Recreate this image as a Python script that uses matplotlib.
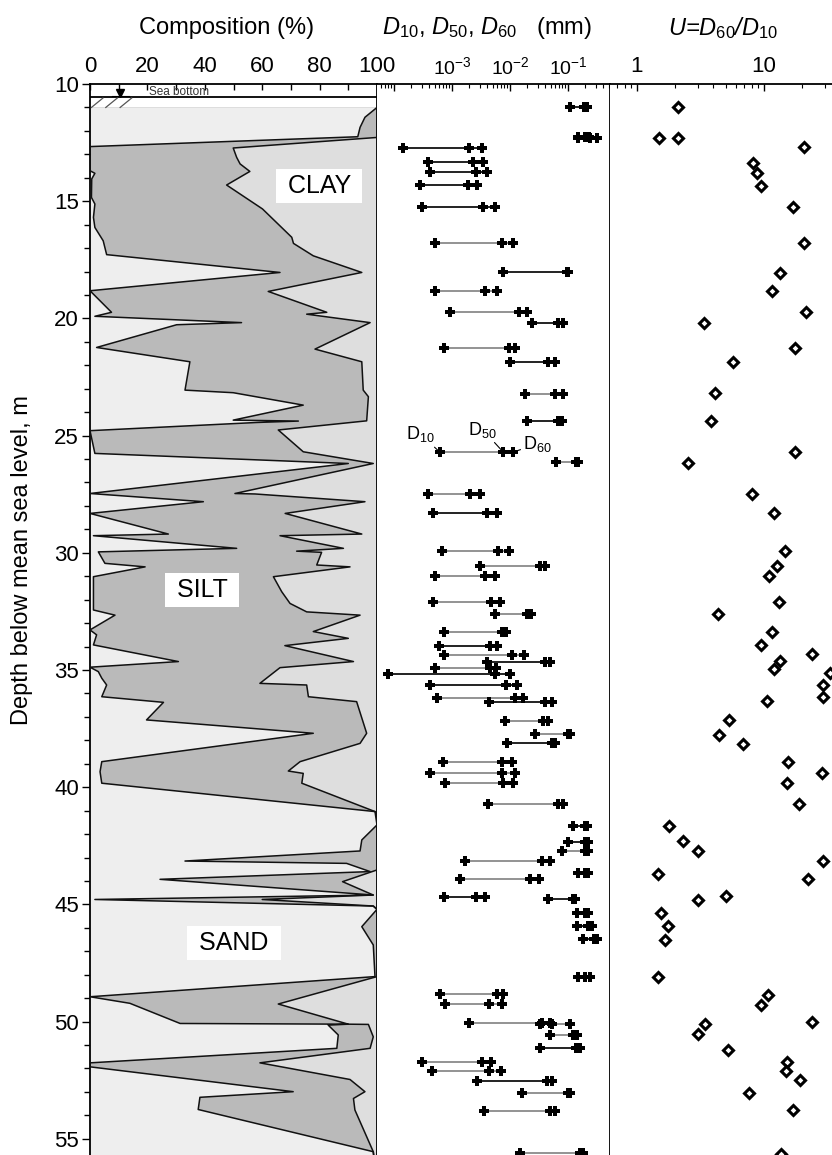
import numpy as np
import matplotlib
matplotlib.use("Agg")
import matplotlib.pyplot as plt
from matplotlib.ticker import FixedLocator, FuncFormatter, NullFormatter

plt.rcParams['font.family'] = ['Liberation Sans', 'DejaVu Sans']
plt.rcParams['mathtext.fontset'] = 'custom'
plt.rcParams['mathtext.rm'] = 'Liberation Sans'
plt.rcParams['mathtext.it'] = 'Liberation Sans:italic'

# ---------------- data: composition (cumulative %) ----------------
sand_depth = [11.00, 11.42, 11.85, 12.25, 12.67, 13.70, 13.81, 14.05, 14.84, 15.12, 15.69, 16.12,
              16.69, 17.28, 18.04, 18.82, 19.74, 19.91, 20.18, 20.27, 21.24, 21.85, 23.06, 23.17,
              23.70, 24.34, 24.38, 24.44, 24.79, 25.76, 26.19, 27.47, 27.82, 28.32, 29.20, 29.27,
              29.81, 29.96, 30.45, 30.60, 31.02, 32.44, 32.66, 33.29, 33.50, 33.93, 34.64, 34.88,
              35.07, 35.35, 35.64, 36.14, 36.38, 37.13, 37.70, 38.91, 39.34, 39.83, 41.04, 41.61,
              42.25, 42.72, 43.15, 43.25, 43.60, 43.93, 44.60, 44.79, 45.07, 45.21, 45.95, 46.73,
              48.08, 48.94, 49.22, 50.08, 50.11, 50.15, 50.57, 51.14, 51.76, 51.93, 52.99, 53.23,
              53.75, 55.55, 57.00]
sand_pct = [100, 95.8, 94.1, 93.3, 0, 0, 1.7, 0.6, 0.5, 1.7, 1.2, 1.7,
            4.6, 5.8, 66.2, 0, 7.5, 1.7, 52.8, 30.2, 2.3, 34.8, 33.1, 49.9,
            74.3, 49.9, 72.6, 58.1, 0, 1.7, 90.0, 0, 39.5, 0, 27.3, 1.2,
            51.1, 2.9, 5.2, 19.2, 1.2, 1.2, 8.7, 0, 2.3, 1.2, 30.8, 0,
            2.9, 4.1, 5.8, 4.1, 25.6, 19.7, 77.8, 4.1, 3.5, 4.1, 99.3, 100,
            94.7, 94.1, 33.1, 89.4, 97.6, 24.4, 98.7, 1.7, 98.7, 100, 94.7, 98.7,
            99.3, 0, 13.9, 31.4, 90, 83, 86.5, 86, 0, 0, 70.8, 38.3,
            37.7, 98.7, 100]

silt_top_depth = [11.00, 12.28, 12.73, 13.13, 13.41, 13.73, 14.31, 15.33, 16.54, 16.80, 17.33, 18.04,
                  18.85, 19.74, 19.82, 20.18, 21.31, 21.85, 23.06, 23.34, 24.37, 24.76, 25.69, 26.19,
                  27.47, 27.49, 27.82, 28.32, 29.20, 29.27, 29.81, 29.93, 29.98, 30.52, 30.60, 31.02,
                  31.66, 32.16, 32.52, 32.66, 33.36, 33.65, 33.96, 34.64, 34.90, 35.57, 35.64, 36.14,
                  36.35, 37.70, 38.13, 38.91, 39.31, 39.41, 39.83, 41.04, 41.10, 43.53, 44.03, 44.60,
                  44.79, 45.07, 45.21, 48.08, 49.25, 50.11, 50.12, 50.65, 51.14, 51.76, 52.47, 52.99,
                  53.28, 53.77, 55.55, 57.00]
silt_top_pct = [100, 100, 49.9, 51.1, 52.3, 55.7, 47.6, 60.1, 70.3, 70.9, 77.8, 94.7,
                62.1, 82.5, 75.5, 97.6, 78.4, 94.7, 95.2, 97.0, 96.4, 65.6, 74.3, 98.7,
                50.5, 57.5, 95.8, 68.0, 94.7, 66.2, 88.3, 72.0, 80.7, 79.0, 90.6, 63.9,
                66.8, 69.7, 75.5, 94.1, 77.8, 90.0, 67.9, 91.8, 66.2, 59.2, 75.5, 76.1,
                92.9, 96.4, 94.1, 73.2, 69.1, 74.3, 73.8, 99.3, 100, 100, 88, 98.7,
                60, 98.7, 100, 100, 65.6, 90.0, 97.0, 98.7, 97.6, 59.2, 90.6, 95.8,
                91.8, 92.3, 98.7, 100]

# ---------------- data: grain sizes (mm) ----------------
d_depth = [10.99, 12.28, 12.30, 12.72, 13.34, 13.77, 14.31, 15.26, 16.77, 18.03, 18.83, 19.74,
           20.18, 21.28, 21.85, 23.24, 24.36, 25.71, 26.14, 27.50, 28.32, 29.91, 30.55, 30.98,
           32.11, 32.61, 33.39, 33.96, 34.36, 34.64, 34.90, 35.17, 35.64, 36.18, 36.35, 37.16,
           37.73, 38.10, 38.94, 39.38, 39.80, 40.73, 41.66, 42.32, 42.72, 43.15, 43.67, 43.93,
           44.67, 44.79, 45.36, 45.92, 46.49, 48.08, 48.84, 49.26, 50.07, 50.12, 50.57, 51.14,
           51.71, 52.09, 52.52, 53.03, 53.80, 55.62]
D10 = [0.108, 0.151, 0.151, 1.45e-4, 3.9e-4, 4.2e-4, 2.8e-4, 3.0e-4, 5.2e-4, 7.7e-3, 5.2e-4, 9.3e-4,
       2.43e-2, 7.2e-4, 1.0e-2, 1.82e-2, 2.0e-2, 6.2e-4, 6.2e-2, 3.9e-4, 4.7e-4, 6.6e-4, 3.0e-3, 5.1e-4,
       4.8e-4, 5.5e-3, 7.2e-4, 6.0e-4, 7.2e-4, 4.0e-3, 5.2e-4, 7.9e-5, 4.2e-4, 5.5e-4, 4.4e-3, 8.1e-3,
       2.7e-2, 8.9e-3, 6.9e-4, 4.2e-4, 7.6e-4, 4.1e-3, 0.123, 0.101, 7.8e-2, 1.66e-3, 0.151, 1.38e-3,
       7.2e-4, 4.6e-2, 0.141, 0.145, 0.184, 0.151, 6.2e-4, 7.6e-4, 2.0e-3, 3.3e-2, 4.9e-2, 3.3e-2,
       3.0e-4, 4.5e-4, 2.7e-3, 1.58e-2, 3.5e-3, 1.5e-2]
D50 = [0.19, 0.20, 0.24, 2.0e-3, 2.3e-3, 2.6e-3, 1.9e-3, 3.4e-3, 7.2e-3, 0.095, 3.7e-3, 1.45e-2,
       6.8e-2, 9.8e-3, 4.6e-2, 6.0e-2, 6.8e-2, 7.7e-3, 0.14, 2.04e-3, 4.0e-3, 6.3e-3, 3.3e-2, 3.7e-3,
       4.7e-3, 2.0e-2, 7.4e-3, 4.6e-3, 1.07e-2, 4.0e-2, 4.6e-3, 5.5e-3, 8.7e-3, 1.23e-2, 4.0e-2, 3.7e-2,
       0.10, 5.2e-2, 7.2e-3, 7.4e-3, 7.7e-3, 6.8e-2, 0.20, 0.20, 0.20, 3.5e-2, 0.20, 2.2e-2,
       2.6e-3, 0.12, 0.20, 0.22, 0.28, 0.20, 5.9e-3, 4.4e-3, 3.5e-2, 5.2e-2, 0.12, 0.14,
       3.24e-3, 4.4e-3, 4.3e-2, 0.10, 4.9e-2, 0.16]
D60 = [0.21, 0.226, 0.313, 3.24e-3, 3.4e-3, 4.0e-3, 2.75e-3, 5.5e-3, 1.12e-2, 0.101, 5.9e-3, 2.0e-2,
       8.1e-2, 1.23e-2, 6.0e-2, 8.1e-2, 7.8e-2, 1.12e-2, 0.151, 3.0e-3, 5.9e-3, 9.8e-3, 4.0e-2, 5.5e-3,
       6.8e-3, 2.34e-2, 8.7e-3, 5.9e-3, 1.74e-2, 4.9e-2, 5.75e-3, 1.0e-2, 1.32e-2, 1.7e-2, 5.2e-2, 4.6e-2,
       0.108, 6.0e-2, 1.07e-2, 1.23e-2, 1.12e-2, 8.3e-2, 0.215, 0.224, 0.224, 4.9e-2, 0.224, 3.2e-2,
       3.7e-3, 0.132, 0.224, 0.257, 0.313, 0.239, 7.7e-3, 7.4e-3, 4.9e-2, 0.108, 0.141, 0.162,
       4.8e-3, 6.9e-3, 5.2e-2, 0.108, 6.0e-2, 0.18]
# line shade per row (style only)
row_gray = [0, 0, 0, 0, 0, 0, 0, 0, 1, 0, 1, 1,
            0, 1, 0, 1, 0, 1, 1, 1, 0, 1, 1, 1,
            1, 1, 1, 0, 1, 0, 1, 0, 0, 1, 0, 1,
            1, 0, 1, 1, 1, 1, 0, 0, 1, 1, 0, 1,
            0, 0, 0, 0, 0, 0, 1, 1, 1, 1, 1, 0,
            1, 1, 0, 1, 1, 1]

# ---------------- data: uniformity coefficient ----------------
u_depth = [10.99, 12.30, 12.30, 12.70, 13.36, 13.81, 14.34, 15.26, 16.77, 18.05, 18.83, 19.74,
           20.21, 21.25, 21.85, 23.20, 24.36, 25.71, 26.16, 27.49, 28.32, 29.91, 30.57, 31.00,
           32.10, 32.63, 33.37, 33.95, 34.33, 34.62, 34.94, 35.12, 35.64, 36.17, 36.34, 37.13,
           37.76, 38.15, 38.91, 39.40, 39.83, 40.72, 41.66, 42.28, 42.73, 43.14, 43.69, 43.92,
           44.65, 44.82, 45.36, 45.94, 46.52, 48.08, 48.87, 49.28, 50.01, 50.11, 50.55, 51.21,
           51.71, 52.12, 52.50, 53.03, 53.76, 55.66]
U = [2.09, 1.50, 2.09, 20.8, 8.15, 8.76, 9.47, 16.8, 20.8, 13.4, 11.5, 21.3,
     3.39, 17.5, 5.67, 4.11, 3.83, 17.5, 2.5, 8.0, 12.0, 14.6, 12.6, 10.9,
     13.1, 4.37, 11.6, 9.47, 24.0, 13.4, 12.0, 33.0, 29.3, 29.0, 10.5, 5.3,
     4.45, 6.8, 15.5, 28.8, 15.1, 19.0, 1.79, 2.29, 3.0, 29.0, 1.47, 22.3,
     5.0, 3.0, 1.55, 1.77, 1.66, 1.46, 10.7, 9.47, 24.0, 3.43, 3.0, 5.2,
     15.1, 14.8, 19.2, 7.6, 17.0, 13.6]

comp_ticks = [0, 20, 40, 60, 80, 100]
depth_ticks = [10, 15, 20, 25, 30, 35, 40, 45, 50, 55]

# ---------------- layout (pixels of the 832 x 1155 picture) ----------------
W, H = 832, 1155
top_px = 84.0
px_per_m = 23.44
ylim = (57.0, 10.0)
bot_px = top_px + (ylim[0] - ylim[1]) * px_per_m

fig = plt.figure(figsize=(W / 100, H / 100), dpi=100)
fig.patch.set_facecolor('white')

def rect(x0, x1):
    return [x0 / W, 1 - bot_px / H, (x1 - x0) / W, (bot_px - top_px) / H]

ax1 = fig.add_axes(rect(90, 377))
ax2 = fig.add_axes(rect(377, 610))
ax3 = fig.add_axes(rect(610, 840))

sand_col = '#eeeeee'
silt_col = '#bababa'
clay_col = '#dedede'

# ---- composition panel ----
ax1.axhspan(sand_depth[0], ylim[0], facecolor=clay_col, edgecolor='none', zorder=0)
ax1.fill_betweenx(silt_top_depth, 0, silt_top_pct, facecolor=silt_col, edgecolor='none', zorder=1)
ax1.fill_betweenx(sand_depth, 0, sand_pct, facecolor=sand_col, edgecolor='none', zorder=2)
ax1.plot(silt_top_pct, silt_top_depth, color='#111111', lw=1.1, zorder=3)
ax1.plot(sand_pct, sand_depth, color='#111111', lw=1.1, zorder=3)
ax1.set_xlim(0, 100)
ax1.set_ylim(*ylim)

# sea bottom decoration
ax1.axhline(10.57, color='k', lw=1.3, zorder=4)
for x0 in (0.5, 5.5, 10.5):
    ax1.plot([x0, x0 + 4], [11.0, 10.6], color='#555555', lw=0.9, zorder=4)
ax1.plot([10.5], [10.4], marker='v', color='k', ms=6, zorder=5)
ax1.plot([7.5, 13.5], [10.52, 10.52], color='k', lw=0.8, zorder=5)
ax1.text(20.5, 10.33, 'Sea bottom', fontsize=8.5, va='center', ha='left', color='#333333')

box = dict(boxstyle='square,pad=0.2', facecolor='white', edgecolor='none')
ax1.text(79.8, 14.34, ' CLAY ', fontsize=18, ha='center', va='center', bbox=box, zorder=6)
ax1.text(39.0, 31.59, ' SILT ', fontsize=18, ha='center', va='center', bbox=box, zorder=6)
ax1.text(50.2, 46.66, ' SAND ', fontsize=18, ha='center', va='center', bbox=box, zorder=6)

ax1.xaxis.set_ticks_position('top')
ax1.set_xticks(comp_ticks)
ax1.set_xticks([10, 30, 50, 70, 90], minor=True)
ax1.tick_params(axis='x', which='both', direction='in', length=4, width=1,
                top=True, bottom=False, labeltop=True, labelbottom=False, labelsize=16, pad=5)
ax1.set_yticks(depth_ticks)
ax1.yaxis.set_minor_locator(FixedLocator(np.arange(10, 57, 1)))
ax1.tick_params(axis='y', which='major', direction='out', length=6, width=1, labelsize=16, pad=2)
ax1.tick_params(axis='y', which='minor', direction='out', length=4, width=1)
ax1.spines['bottom'].set_visible(False)
for s in ('top', 'left', 'right'):
    ax1.spines[s].set_linewidth(1.3)

# ---- grain size panel ----
for i in range(len(d_depth)):
    c = '#8a8a8a' if row_gray[i] else '#111111'
    ax2.plot([D10[i], D60[i]], [d_depth[i], d_depth[i]], color=c, lw=1.3, zorder=2)
    ax2.plot([D10[i], D50[i], D60[i]], [d_depth[i]] * 3, ls='none', marker='P',
             ms=6.5, color='k', mew=0, zorder=3)
ax2.set_xscale('log')
ax2.set_xlim(5.1e-5, 0.53)
ax2.set_ylim(*ylim)

ann = dict(arrowstyle='-', lw=0.8, color='k', shrinkA=0, shrinkB=2)
ax2.annotate('D$_{10}$', xy=(6.2e-4, 25.71), xytext=(2.9e-4, 24.95), fontsize=13,
             ha='center', va='center', arrowprops=ann)
ax2.annotate('D$_{50}$', xy=(7.7e-3, 25.71), xytext=(3.4e-3, 24.75), fontsize=13,
             ha='center', va='center', arrowprops=ann)
ax2.annotate('D$_{60}$', xy=(1.12e-2, 25.71), xytext=(3.0e-2, 25.35), fontsize=13,
             ha='center', va='center', arrowprops=ann)

def sci_label(v, pos):
    e = int(round(np.log10(v)))
    if e in (-3, -2, -1):
        return r'$\mathit{10^{%d}}$' % e
    return ''

ax2.xaxis.set_ticks_position('top')
ax2.xaxis.set_major_locator(FixedLocator([1e-4, 1e-3, 1e-2, 1e-1]))
ax2.xaxis.set_major_formatter(FuncFormatter(sci_label))
minors = [m * 10.0 ** e for e in (-5, -4, -3, -2, -1) for m in range(2, 10)]
ax2.xaxis.set_minor_locator(FixedLocator(minors))
ax2.xaxis.set_minor_formatter(NullFormatter())
ax2.tick_params(axis='x', which='major', direction='in', length=5, width=1,
                top=True, bottom=False, labeltop=True, labelbottom=False, labelsize=14, pad=4)
ax2.tick_params(axis='x', which='minor', direction='in', length=3, width=0.8, top=True, bottom=False)
ax2.tick_params(axis='y', which='both', left=False, right=False, labelleft=False)
ax2.spines['bottom'].set_visible(False)
ax2.spines['left'].set_visible(False)
for s in ('top', 'right'):
    ax2.spines[s].set_linewidth(1.3)

# ---- uniformity panel ----
ax3.plot(U, u_depth, ls='none', marker='D', ms=5, mfc='white', mec='k', mew=2.2, zorder=3)
ax3.set_xscale('log')
ax3.set_xlim(0.613, 39.7)
ax3.set_ylim(*ylim)
ax3.xaxis.set_ticks_position('top')
ax3.xaxis.set_major_locator(FixedLocator([1, 10]))
ax3.xaxis.set_major_formatter(FuncFormatter(lambda v, p: '%d' % v))
ax3.xaxis.set_minor_locator(FixedLocator([0.7, 0.8, 0.9, 2, 3, 4, 5, 6, 7, 8, 9, 20, 30]))
ax3.xaxis.set_minor_formatter(NullFormatter())
ax3.tick_params(axis='x', which='major', direction='in', length=5, width=1,
                top=True, bottom=False, labeltop=True, labelbottom=False, labelsize=16, pad=5)
ax3.tick_params(axis='x', which='minor', direction='in', length=3, width=0.8, top=True, bottom=False)
ax3.tick_params(axis='y', which='both', left=False, right=False, labelleft=False)
ax3.spines['bottom'].set_visible(False)
ax3.spines['left'].set_visible(False)
ax3.spines['top'].set_linewidth(1.3)

# ---- titles ----
fig.text(227 / W, 1 - 28 / H, 'Composition (%)', fontsize=17, ha='center', va='center')
fig.text(487 / W, 1 - 28 / H, r'$\mathit{D}_{10}$, $\mathit{D}_{50}$, $\mathit{D}_{60}$   (mm)',
         fontsize=17, ha='center', va='center')
fig.text(723 / W, 1 - 28 / H, r'$\mathit{U}$=$\mathit{D}_{60}$/$\mathit{D}_{10}$',
         fontsize=17, ha='center', va='center', style='italic')
fig.text(22 / W, 1 - 560 / H, 'Depth below mean sea level, m', fontsize=17, rotation=90,
         ha='center', va='center')

fig.savefig('out.png', dpi=100)
